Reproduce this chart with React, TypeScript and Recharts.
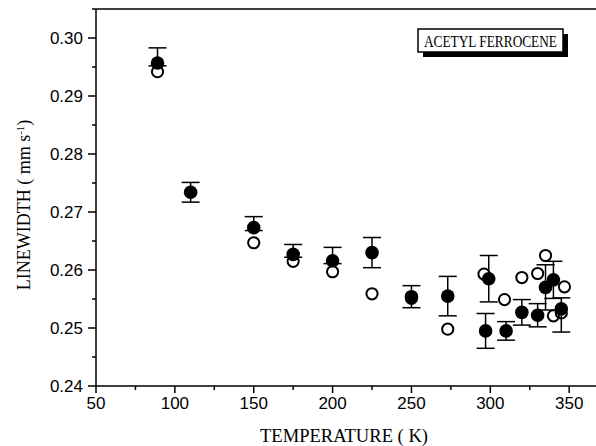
import React from 'react';
import { ScatterChart, Scatter, XAxis, YAxis, ErrorBar, ReferenceLine } from 'recharts';

// Filled circles (with error bars; lower part hidden behind the open circle for some points)
const filledT = [89, 110, 150, 175, 200, 225, 250, 273, 297, 299, 310, 320, 330, 335, 340, 345];
const filledW = [0.2957, 0.2734, 0.2673, 0.2627, 0.2616, 0.263, 0.2554, 0.2555, 0.2495, 0.2585, 0.2495, 0.2527, 0.2522, 0.257, 0.2583, 0.2533];
const filledErrHigh = [0.0026, 0.0017, 0.0019, 0.0017, 0.0023, 0.0026, 0.0019, 0.0034, 0.003, 0.004, 0.0016, 0.0022, 0.002, 0.0039, 0.0032, 0.0019];
const filledErrLow = [0.0005, 0.0017, 0.0005, 0.0005, 0.0005, 0.0026, 0.0019, 0.0034, 0.003, 0.004, 0.0016, 0.0022, 0.002, 0.0039, 0.0032, 0.004];

// Open circles
const openT = [89, 150, 175, 200, 225, 250, 273, 296, 309, 320, 330, 335, 340, 345, 347];
const openW = [0.2942, 0.2647, 0.2615, 0.2597, 0.2559, 0.2551, 0.2498, 0.2593, 0.2549, 0.2587, 0.2594, 0.2625, 0.2521, 0.2526, 0.2571];

const xMajorTicks = [50, 100, 150, 200, 250, 300, 350];
const xMinorTicks = [75, 125, 175, 225, 275, 325];
const yMajorTicks = [0.24, 0.25, 0.26, 0.27, 0.28, 0.29, 0.3];
const yMinorTicks = [0.245, 0.255, 0.265, 0.275, 0.285, 0.295, 0.305];
const yLabels = ['0.24', '0.25', '0.26', '0.27', '0.28', '0.29', '0.30'];

const filledData = filledT.map((t, i) => ({ t, w: filledW[i], err: [filledErrLow[i], filledErrHigh[i]] }));
const openData = openT.map((t, i) => ({ t, w: openW[i] }));

const W = 596;
const H = 446;
const sans = '"Liberation Sans", Arial, sans-serif';
const serif = '"Liberation Serif", "Times New Roman", serif';

const XTick = (props: any) => {
  const { x, y, payload } = props;
  const v = payload.value;
  const major = xMajorTicks.includes(v);
  return (
    <g>
      <line x1={x} x2={x} y1={y} y2={y + (major ? 7 : 4)} stroke="#000" strokeWidth={1.5} />
      {major && (
        <text x={x} y={y + 23} textAnchor="middle" fontFamily={sans} fontSize={17} fill="#000">
          {String(v)}
        </text>
      )}
    </g>
  );
};

const YTick = (props: any) => {
  const { x, y, payload } = props;
  const v = payload.value;
  const idx = yMajorTicks.findIndex((m) => Math.abs(m - v) < 1e-9);
  const major = idx >= 0;
  return (
    <g>
      <line x1={x} x2={x - (major ? 8 : 4)} y1={y} y2={y} stroke="#000" strokeWidth={1.5} />
      {major && (
        <text x={x - 13} y={y} dy="0.35em" textAnchor="end" fontFamily={sans} fontSize={17} fill="#000">
          {yLabels[idx]}
        </text>
      )}
    </g>
  );
};

const FilledDot = (props: any) => {
  const { cx, cy } = props;
  return <circle cx={cx} cy={cy} r={6.8} fill="#000" />;
};

const OpenDot = (props: any) => {
  const { cx, cy } = props;
  return <circle cx={cx} cy={cy} r={5.6} fill="none" stroke="#000" strokeWidth={2} />;
};

export default function App() {
  const allX = [...xMajorTicks, ...xMinorTicks].sort((a, b) => a - b);
  const allY = [...yMajorTicks, ...yMinorTicks].sort((a, b) => a - b);
  return (
    <div style={{ position: 'absolute', left: 0, top: 0, width: W, height: H, background: '#fff' }}>
      <ScatterChart width={W} height={H} margin={{ top: 9, right: 0, bottom: 0, left: 0 }}>
        <XAxis
          type="number"
          dataKey="t"
          domain={[50, 367]}
          ticks={allX}
          interval={0}
          allowDataOverflow
          height={60}
          tickSize={0}
          tickMargin={0}
          tickLine={false}
          tick={<XTick />}
          axisLine={{ stroke: '#000', strokeWidth: 1.5 }}
        />
        <YAxis
          type="number"
          dataKey="w"
          domain={[0.24, 0.305]}
          ticks={allY}
          interval={0}
          allowDataOverflow
          width={96}
          tickSize={0}
          tickMargin={0}
          tickLine={false}
          tick={<YTick />}
          axisLine={{ stroke: '#000', strokeWidth: 1.5 }}
        />
        <ReferenceLine y={0.305} stroke="#000" strokeWidth={1.5} />
        <Scatter data={openData} isAnimationActive={false} shape={<OpenDot />} />
        <Scatter data={filledData} isAnimationActive={false} shape={<FilledDot />}>
          <ErrorBar dataKey="err" direction="y" width={9} stroke="#000" strokeWidth={1.5} />
        </Scatter>
      </ScatterChart>
      <svg width={W} height={H} style={{ position: 'absolute', left: 0, top: 0, pointerEvents: 'none' }}>
        <text
          x={24}
          y={205}
          transform="rotate(-90 24 205)"
          textAnchor="middle"
          dy="0.35em"
          fontFamily={serif}
          fontSize={18}
          fill="#000"
        >
          LINEWIDTH ( mm s<tspan dy={-6} fontSize={11}>-1</tspan><tspan dy={6}>)</tspan>
        </text>
        <text x={344} y={442} textAnchor="middle" fontFamily={serif} fontSize={18} fill="#000" textLength={168} lengthAdjust="spacingAndGlyphs">
          TEMPERATURE ( K)
        </text>
        <rect x={423} y={34} width={145} height={23} fill="#000" />
        <rect x={418} y={29} width={145} height={23} fill="#fff" stroke="#000" strokeWidth={1.5} />
        <text x={490.5} y={46.5} textAnchor="middle" fontFamily={serif} fontSize={16} fill="#000" textLength={133} lengthAdjust="spacingAndGlyphs">
          ACETYL FERROCENE
        </text>
      </svg>
    </div>
  );
}
